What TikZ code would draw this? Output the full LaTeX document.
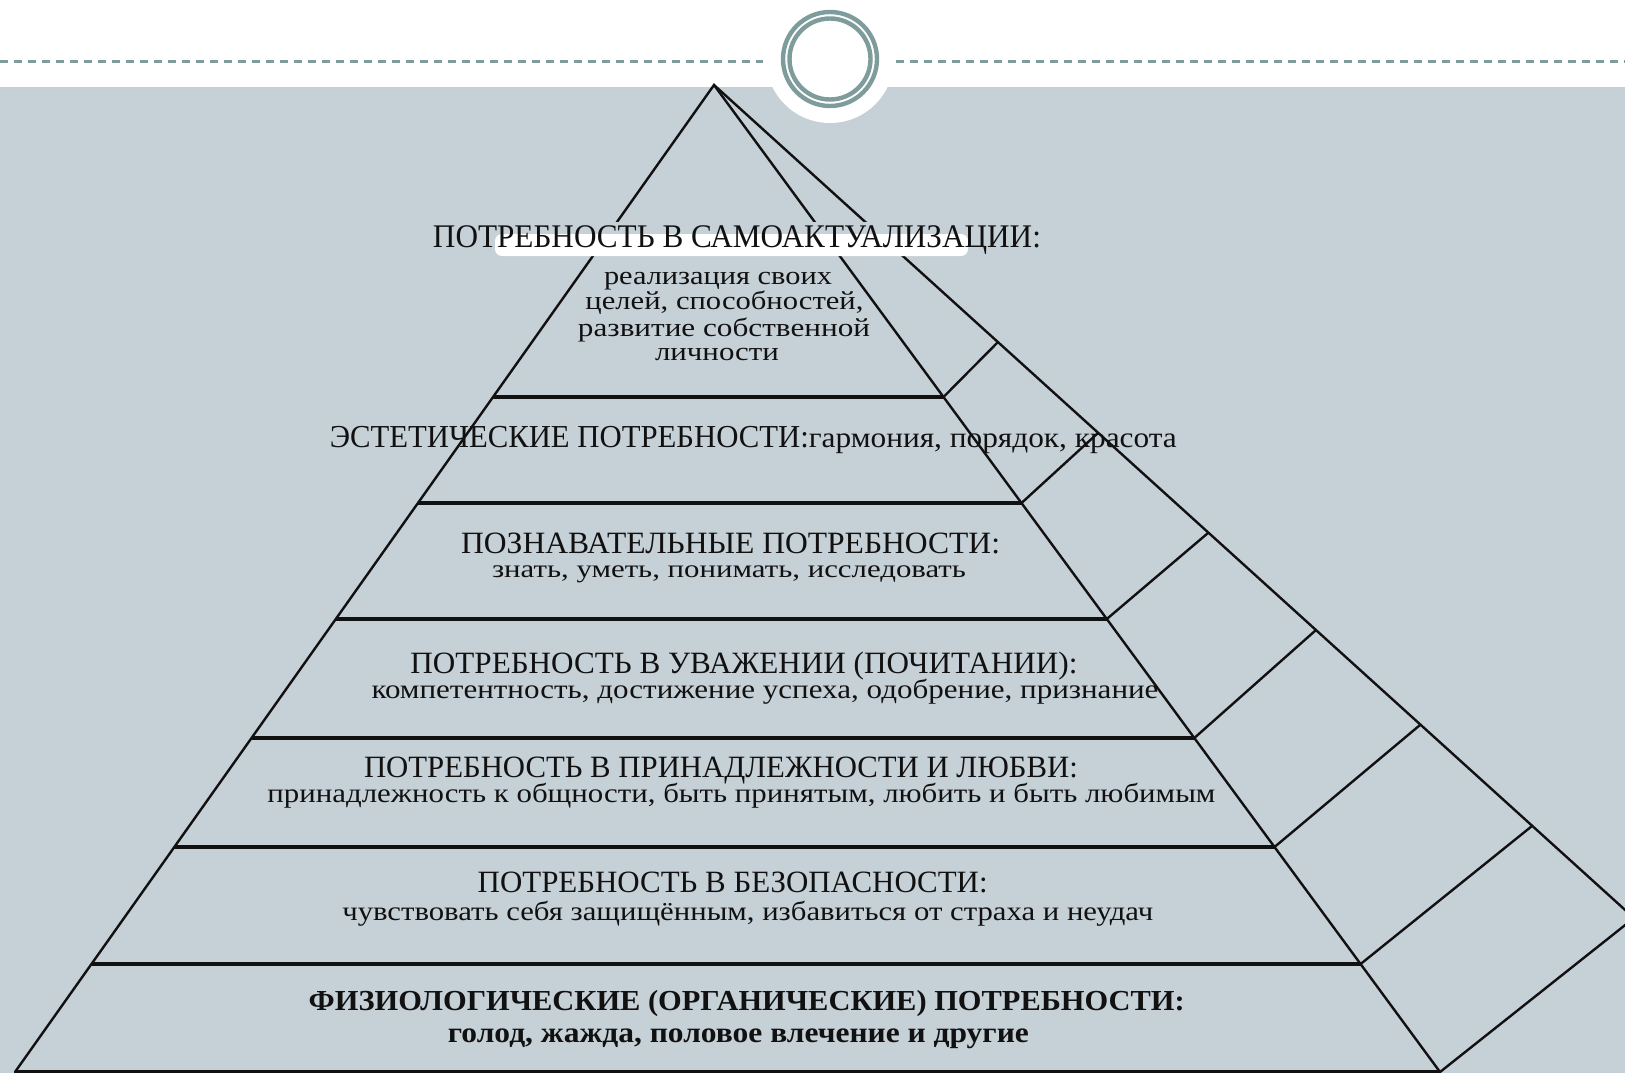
\documentclass[tikz,border=0pt]{standalone}
\usepackage{fontspec}
\setmainfont{Liberation Serif}
\usepackage{graphicx}
\usetikzlibrary{calc}
\definecolor{bg}{HTML}{C6D0D7}
\definecolor{tealgray}{HTML}{7E9C9C}
\definecolor{ink}{HTML}{111111}
\newcommand\fitw[3]{\resizebox{#2pt}{\height}{\fontsize{#1}{#1}\selectfont #3}}
\tikzset{
  edgeline/.style={draw=ink, line width=2.4pt, line join=miter, line cap=round},
  tierline/.style={draw=ink, line width=3.2pt},
  lbl/.style={inner sep=0pt, anchor=base, text=ink},
}
\begin{document}
\begin{tikzpicture}[x=1pt,y=-1pt]
\useasboundingbox (0,0) rectangle (1625,1073);
\clip (0,0) rectangle (1625,1073);
% background
\fill[white] (0,0) rectangle (1625,87);
\fill[bg] (0,87) rectangle (1625,1073);
\draw[tealgray, line width=3pt, dash pattern=on 8pt off 6pt] (0,62) -- (763,62);
\draw[tealgray, line width=3pt, dash pattern=on 8pt off 6pt] (896,62) -- (1625,62);
\fill[white] (830,59) circle (64pt);
\draw[tealgray, line width=4.4pt] (830,59) circle (47pt);
\draw[tealgray, line width=4.4pt] (830,59) circle (40.5pt);
% pyramid points
\coordinate (A) at (714,85);
\coordinate (BL) at (15,1072);
\coordinate (BR) at (1440,1072);
\coordinate (BK) at (1634,918);
\coordinate (L1) at (493.0,397);  \coordinate (R1) at (943.5,397);
\coordinate (L2) at (418.0,503);  \coordinate (R2) at (1021.5,503);
\coordinate (L3) at (335.8,619);  \coordinate (R3) at (1106.8,619);
\coordinate (L4) at (251.5,738);  \coordinate (R4) at (1194.3,738);
\coordinate (L5) at (174.4,847);  \coordinate (R5) at (1274.5,847);
\coordinate (L6) at (91.5,964);   \coordinate (R6) at (1360.6,964);
\coordinate (K1) at (998,342);
\coordinate (K2) at (1098,433);
\coordinate (K3) at (1208,533);
\coordinate (K4) at (1316,630);
\coordinate (K5) at (1420,725);
\coordinate (K6) at (1532,826);
% outline
\draw[edgeline] (BL) -- (A) -- (BR);
\draw[edgeline] (A) -- (BK);
\draw[edgeline] (BR) -- (BK);
\draw[tierline] (BL) -- (BR);
% tiers
\foreach \i in {1,...,6} {
  \draw[tierline] (L\i) -- (R\i);
  \draw[edgeline] (R\i) -- (K\i);
}
% title highlight
\fill[bg] (430,222) rectangle (1045,256);
\fill[white, rounded corners=7pt] (495,234) rectangle (968,256);
% texts
\node[lbl] (t1) at (737,247) {\fitw{33}{608}{ПОТРЕБНОСТЬ В САМОАКТУАЛИЗАЦИИ:}};
\node[lbl] (b1a) at (718,284) {\fitw{26}{228}{реализация своих}};
\node[lbl] (b1b) at (724.5,309) {\fitw{26}{278}{целей, способностей,}};
\node[lbl] (b1c) at (724,336) {\fitw{26}{292}{развитие собственной}};
\node[lbl] (b1d) at (717,360) {\fitw{26}{124}{личности}};
\node[lbl, anchor=base west] (t2) at (329.6,447) {\fitw{32}{479}{ЭСТЕТИЧЕСКИЕ ПОТРЕБНОСТИ:}\fitw{29}{368}{гармония, порядок, красота}};
\node[lbl] (t3) at (730.6,553) {\fitw{31}{539}{ПОЗНАВАТЕЛЬНЫЕ ПОТРЕБНОСТИ:}};
\node[lbl] (t3b) at (729,577) {\fitw{25}{474}{знать, уметь, понимать, исследовать}};
\node[lbl] (t4) at (744,673) {\fitw{31}{667}{ПОТРЕБНОСТЬ В УВАЖЕНИИ (ПОЧИТАНИИ):}};
\node[lbl] (t4b) at (765,698) {\fitw{27}{787}{компетентность, достижение успеха, одобрение, признание}};
\node[lbl] (t5) at (721,777) {\fitw{31}{714}{ПОТРЕБНОСТЬ В ПРИНАДЛЕЖНОСТИ И ЛЮБВИ:}};
\node[lbl] (t5b) at (741.5,802) {\fitw{27}{948}{принадлежность к общности, быть принятым, любить и быть любимым}};
\node[lbl] (t6) at (732.7,892) {\fitw{31}{510}{ПОТРЕБНОСТЬ В БЕЗОПАСНОСТИ:}};
\node[lbl] (t6b) at (747.8,920) {\fitw{27}{811}{чувствовать себя защищённым, избавиться от страха и неудач}};
\node[lbl] (t7) at (746.7,1010) {\fitw{29}{876}{\bfseries ФИЗИОЛОГИЧЕСКИЕ (ОРГАНИЧЕСКИЕ) ПОТРЕБНОСТИ:}};
\node[lbl] (t7b) at (738.4,1042) {\fitw{29}{581}{\bfseries голод, жажда, половое влечение и другие}};
\end{tikzpicture}
\end{document}
